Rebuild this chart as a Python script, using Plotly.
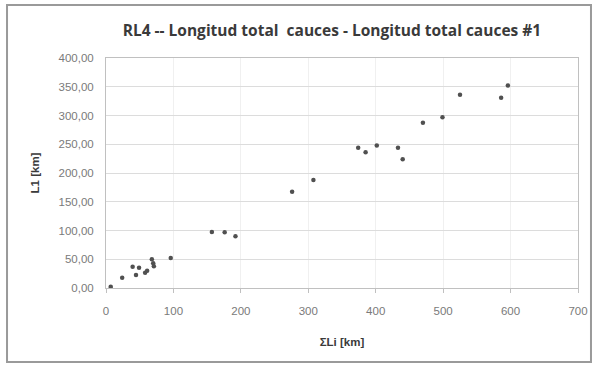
import plotly.graph_objects as go

# Longitud total cauces (sum Li) vs longitud cauce #1 (L1), km
sum_li = [7, 24, 39.5, 44.5, 49, 58, 61, 68, 70, 71, 96,
          157, 176, 192, 276, 307.6,
          374, 385, 401.6, 433, 440, 470, 499, 525, 586, 596]
l1 = [2, 18, 37, 22.6, 35, 26.6, 30, 50, 43, 38, 52,
      97.4, 97, 90, 167.5, 188,
      244, 236, 248, 244, 224, 287.5, 297, 336, 331, 352]

title = "RL4 -- Longitud total  cauces - Longitud total cauces #1"
x_title = "ΣLi [km]"
y_title = "L1 [km]"

fig = go.Figure()
fig.add_trace(go.Scatter(
    x=sum_li, y=l1, mode="markers",
    marker=dict(symbol="circle", size=4.5, color="#505050"),
    showlegend=False,
))

grid = "#dcdcdc"
fig.update_layout(
    width=597, height=367,
    margin=dict(l=106, r=19, t=58, b=79),
    paper_bgcolor="white", plot_bgcolor="white",
    separators=",.",
    font=dict(family="Liberation Sans, Arial", color="#7a7a7a", size=11.5),
    title=dict(text="<b>" + title + "</b>", x=0.556, xanchor="center",
               y=0.918, yanchor="middle",
               font=dict(family="Open Sans, Liberation Sans", size=15.5, color="#3a3a3a")),
    xaxis=dict(range=[0, 700], dtick=100, tickformat="d", automargin=False,
               showgrid=True, gridcolor="#f0f0f0", gridwidth=1,
               showline=True, linecolor="#c0c0c0", mirror=True,
               ticks="outside", ticklen=4, tickcolor="#c0c0c0",
               ticklabelstandoff=8, zeroline=False,
               title=dict(text="<b>" + x_title + "</b>", standoff=22,
                          font=dict(size=11.5, color="#3a3a3a"))),
    yaxis=dict(range=[0, 400], dtick=50, tickformat=".2f", automargin=False,
               showgrid=True, gridcolor=grid, gridwidth=1,
               showline=True, linecolor="#c0c0c0", mirror=True,
               ticks="", ticklabelstandoff=9, zeroline=False,
               title=dict(text="<b>" + y_title + "</b>", standoff=16,
                          font=dict(size=11.5, color="#3a3a3a"))),
    shapes=[dict(type="rect", xref="paper", yref="paper",
                 x0=-0.2097, x1=1.0275, y0=-0.3217, y1=1.23,
                 line=dict(color="#9a9a9a", width=2), layer="below")],
)

# the page body has a default 8px margin; remove it so the figure fills the window
fig.write_html("out.html", config={"displayModeBar": False},
               post_script="document.body.style.margin='0';")
